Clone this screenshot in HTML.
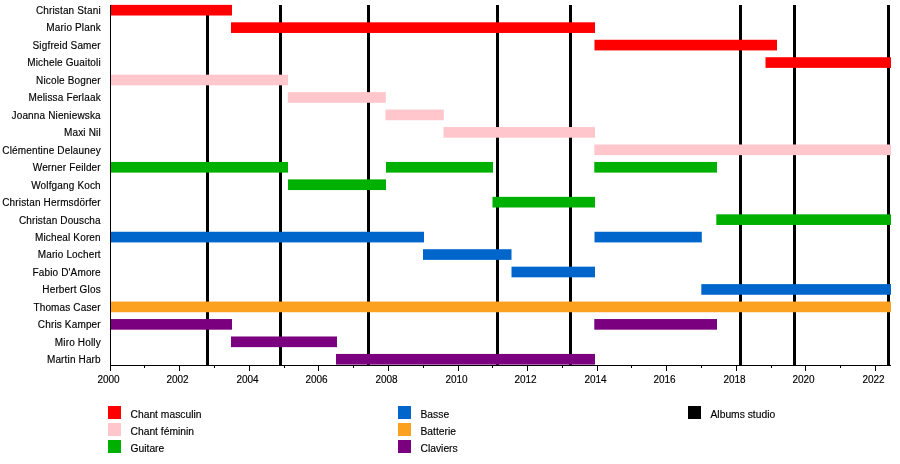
<!DOCTYPE html>
<html><head><meta charset="utf-8"><style>
html,body{margin:0;padding:0;background:#fff;}
svg{display:block;will-change:transform;}
text{font-family:"Liberation Sans",sans-serif;fill:#000;stroke:#000;stroke-width:0.15px;}
</style></head><body>
<svg width="900" height="464" viewBox="0 0 900 464">
<rect x="0" y="0" width="900" height="464" fill="#fff"/>
<g>

<rect x="206" y="5" width="3" height="360" fill="#000"/>
<rect x="279" y="5" width="3" height="360" fill="#000"/>
<rect x="367" y="5" width="3" height="360" fill="#000"/>
<rect x="496" y="5" width="3" height="360" fill="#000"/>
<rect x="569" y="5" width="3" height="360" fill="#000"/>
<rect x="739" y="5" width="3" height="360" fill="#000"/>
<rect x="793" y="5" width="3" height="360" fill="#000"/>
<rect x="887" y="5" width="3" height="360" fill="#000"/>
<rect x="110.50" y="4.86" width="121.50" height="10.65" fill="#ff0000"/>
<rect x="231.00" y="22.31" width="364.00" height="10.65" fill="#ff0000"/>
<rect x="594.50" y="39.77" width="182.50" height="10.65" fill="#ff0000"/>
<rect x="765.50" y="57.22" width="125.50" height="10.65" fill="#ff0000"/>
<rect x="110.50" y="74.68" width="177.50" height="10.65" fill="#ffc6cc"/>
<rect x="287.80" y="92.13" width="98.00" height="10.65" fill="#ffc6cc"/>
<rect x="385.50" y="109.58" width="58.30" height="10.65" fill="#ffc6cc"/>
<rect x="443.50" y="127.04" width="151.50" height="10.65" fill="#ffc6cc"/>
<rect x="594.30" y="144.49" width="296.70" height="10.65" fill="#ffc6cc"/>
<rect x="110.50" y="161.95" width="177.50" height="10.65" fill="#00b000"/>
<rect x="386.00" y="161.95" width="107.00" height="10.65" fill="#00b000"/>
<rect x="594.30" y="161.95" width="122.70" height="10.65" fill="#00b000"/>
<rect x="288.00" y="179.40" width="98.00" height="10.65" fill="#00b000"/>
<rect x="492.50" y="196.85" width="102.50" height="10.65" fill="#00b000"/>
<rect x="716.30" y="214.31" width="174.70" height="10.65" fill="#00b000"/>
<rect x="110.50" y="231.76" width="313.50" height="10.65" fill="#0066cc"/>
<rect x="594.50" y="231.76" width="107.30" height="10.65" fill="#0066cc"/>
<rect x="423.00" y="249.22" width="88.50" height="10.65" fill="#0066cc"/>
<rect x="511.50" y="266.67" width="83.50" height="10.65" fill="#0066cc"/>
<rect x="701.30" y="284.12" width="189.70" height="10.65" fill="#0066cc"/>
<rect x="110.50" y="301.58" width="780.50" height="10.65" fill="#fba11f"/>
<rect x="110.50" y="319.03" width="121.50" height="10.65" fill="#7a007f"/>
<rect x="594.30" y="319.03" width="122.70" height="10.65" fill="#7a007f"/>
<rect x="231.00" y="336.49" width="106.00" height="10.65" fill="#7a007f"/>
<rect x="336.00" y="353.94" width="259.00" height="10.65" fill="#7a007f"/>
<rect x="110" y="5" width="1" height="361" fill="#000"/>
<rect x="110" y="365" width="781" height="1" fill="#000"/>
<rect x="110" y="365" width="1" height="6" fill="#000"/>
<text x="108.50" y="382.7" font-size="10" text-anchor="middle">2000</text>
<rect x="144" y="365" width="1" height="3" fill="#000"/>
<rect x="179" y="365" width="1" height="6" fill="#000"/>
<text x="177.50" y="382.7" font-size="10" text-anchor="middle">2002</text>
<rect x="214" y="365" width="1" height="3" fill="#000"/>
<rect x="249" y="365" width="1" height="6" fill="#000"/>
<text x="247.50" y="382.7" font-size="10" text-anchor="middle">2004</text>
<rect x="284" y="365" width="1" height="3" fill="#000"/>
<rect x="318" y="365" width="1" height="6" fill="#000"/>
<text x="316.50" y="382.7" font-size="10" text-anchor="middle">2006</text>
<rect x="353" y="365" width="1" height="3" fill="#000"/>
<rect x="388" y="365" width="1" height="6" fill="#000"/>
<text x="386.50" y="382.7" font-size="10" text-anchor="middle">2008</text>
<rect x="423" y="365" width="1" height="3" fill="#000"/>
<rect x="458" y="365" width="1" height="6" fill="#000"/>
<text x="456.50" y="382.7" font-size="10" text-anchor="middle">2010</text>
<rect x="492" y="365" width="1" height="3" fill="#000"/>
<rect x="527" y="365" width="1" height="6" fill="#000"/>
<text x="525.50" y="382.7" font-size="10" text-anchor="middle">2012</text>
<rect x="562" y="365" width="1" height="3" fill="#000"/>
<rect x="597" y="365" width="1" height="6" fill="#000"/>
<text x="595.50" y="382.7" font-size="10" text-anchor="middle">2014</text>
<rect x="631" y="365" width="1" height="3" fill="#000"/>
<rect x="666" y="365" width="1" height="6" fill="#000"/>
<text x="664.50" y="382.7" font-size="10" text-anchor="middle">2016</text>
<rect x="701" y="365" width="1" height="3" fill="#000"/>
<rect x="736" y="365" width="1" height="6" fill="#000"/>
<text x="734.50" y="382.7" font-size="10" text-anchor="middle">2018</text>
<rect x="771" y="365" width="1" height="3" fill="#000"/>
<rect x="805" y="365" width="1" height="6" fill="#000"/>
<text x="803.50" y="382.7" font-size="10" text-anchor="middle">2020</text>
<rect x="840" y="365" width="1" height="3" fill="#000"/>
<rect x="875" y="365" width="1" height="6" fill="#000"/>
<text x="873.50" y="382.7" font-size="10" text-anchor="middle">2022</text>
<text x="100.8" y="13.80" font-size="10" letter-spacing="0.15" text-anchor="end">Christan Stani</text>
<text x="100.8" y="31.28" font-size="10" letter-spacing="0.15" text-anchor="end">Mario Plank</text>
<text x="100.8" y="48.75" font-size="10" letter-spacing="0.15" text-anchor="end">Sigfreid Samer</text>
<text x="100.8" y="66.23" font-size="10" letter-spacing="0.15" text-anchor="end">Michele Guaitoli</text>
<text x="100.8" y="83.70" font-size="10" letter-spacing="0.15" text-anchor="end">Nicole Bogner</text>
<text x="100.8" y="101.17" font-size="10" letter-spacing="0.15" text-anchor="end">Melissa Ferlaak</text>
<text x="100.8" y="118.65" font-size="10" letter-spacing="0.15" text-anchor="end">Joanna Nieniewska</text>
<text x="100.8" y="136.13" font-size="10" letter-spacing="0.15" text-anchor="end">Maxi Nil</text>
<text x="100.8" y="153.60" font-size="10" letter-spacing="0.15" text-anchor="end">Clémentine Delauney</text>
<text x="100.8" y="171.08" font-size="10" letter-spacing="0.15" text-anchor="end">Werner Feilder</text>
<text x="100.8" y="188.55" font-size="10" letter-spacing="0.15" text-anchor="end">Wolfgang Koch</text>
<text x="100.8" y="206.03" font-size="10" letter-spacing="0.15" text-anchor="end">Christan Hermsdörfer</text>
<text x="100.8" y="223.50" font-size="10" letter-spacing="0.15" text-anchor="end">Christan Douscha</text>
<text x="100.8" y="240.98" font-size="10" letter-spacing="0.15" text-anchor="end">Micheal Koren</text>
<text x="100.8" y="258.45" font-size="10" letter-spacing="0.15" text-anchor="end">Mario Lochert</text>
<text x="100.8" y="275.93" font-size="10" letter-spacing="0.15" text-anchor="end">Fabio D'Amore</text>
<text x="100.8" y="293.40" font-size="10" letter-spacing="0.15" text-anchor="end">Herbert Glos</text>
<text x="100.8" y="310.88" font-size="10" letter-spacing="0.15" text-anchor="end">Thomas Caser</text>
<text x="100.8" y="328.35" font-size="10" letter-spacing="0.15" text-anchor="end">Chris Kamper</text>
<text x="100.8" y="345.83" font-size="10" letter-spacing="0.15" text-anchor="end">Miro Holly</text>
<text x="100.8" y="363.30" font-size="10" letter-spacing="0.15" text-anchor="end">Martin Harb</text>
<rect x="108" y="406" width="13" height="13" fill="#ff0000"/>
<text x="130.5" y="417.8" font-size="10.3">Chant masculin</text>
<rect x="108" y="423" width="13" height="13" fill="#ffc6cc"/>
<text x="130.5" y="434.8" font-size="10.3">Chant féminin</text>
<rect x="108" y="440" width="13" height="13" fill="#00b000"/>
<text x="130.5" y="451.8" font-size="10.3">Guitare</text>
<rect x="398" y="406" width="13" height="13" fill="#0066cc"/>
<text x="420.5" y="417.8" font-size="10.3">Basse</text>
<rect x="398" y="423" width="13" height="13" fill="#fba11f"/>
<text x="420.5" y="434.8" font-size="10.3">Batterie</text>
<rect x="398" y="440" width="13" height="13" fill="#7a007f"/>
<text x="420.5" y="451.8" font-size="10.3">Claviers</text>
<rect x="688" y="406" width="13" height="13" fill="#000"/>
<text x="710.5" y="417.8" font-size="10.3">Albums studio</text>
</g></svg></body></html>
